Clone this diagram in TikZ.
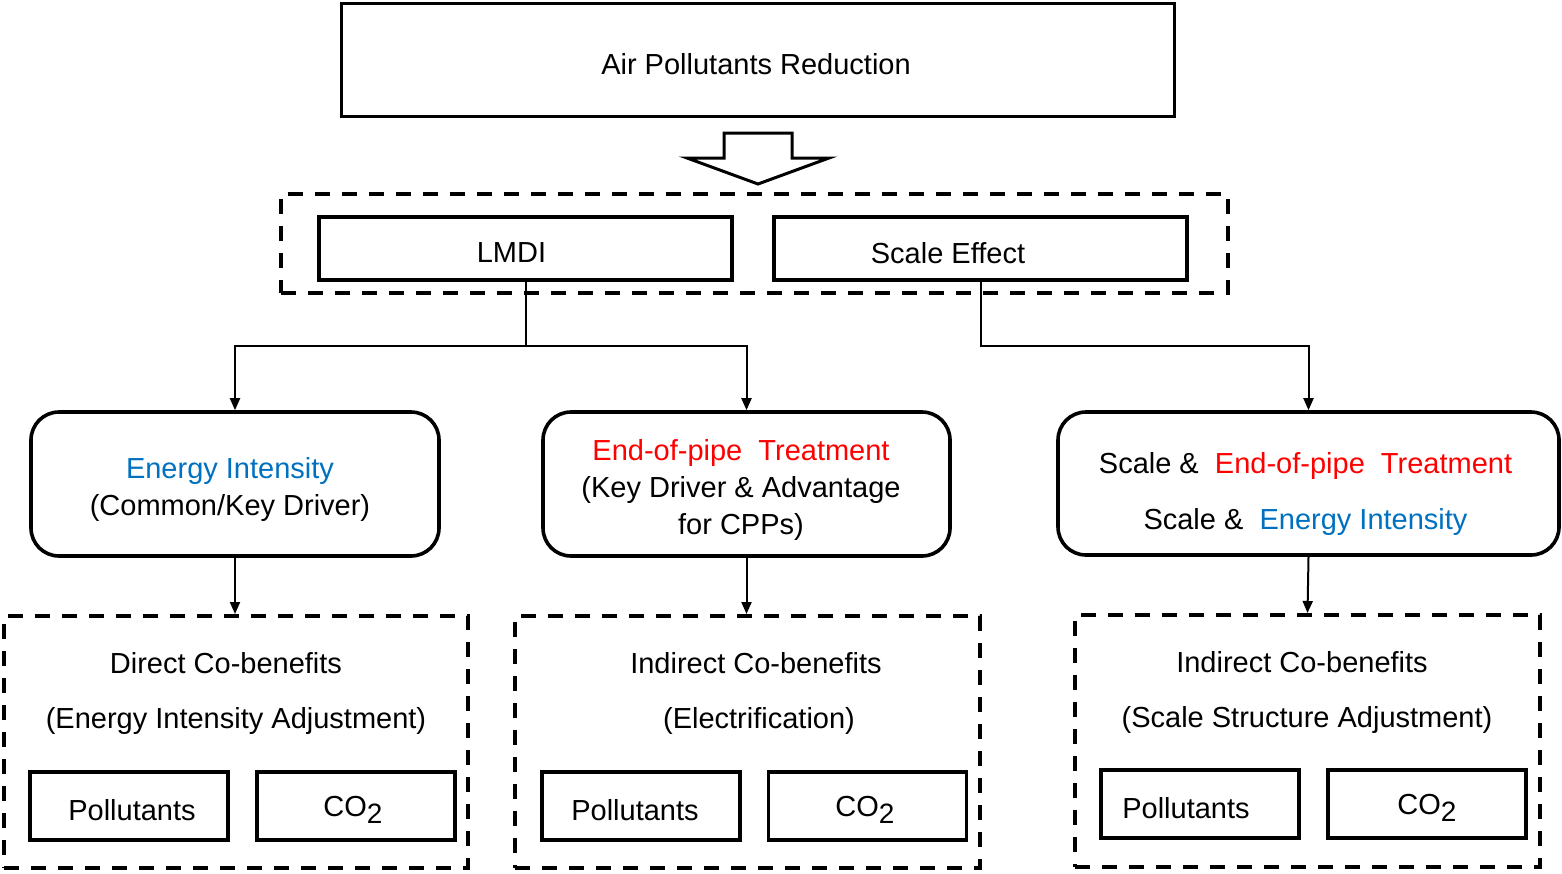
\documentclass[tikz,border=0pt]{standalone}
\usepackage{fontspec}
\setmainfont{Liberation Sans}
\usetikzlibrary{arrows.meta}
\definecolor{eiblue}{HTML}{0070C0}
\definecolor{eptred}{HTML}{FF0000}
\tikzset{t/.style={font=\fontsize{14.5}{18.5}\selectfont, align=center}}
\tikzset{box/.style={draw, line width=1.8pt, inner sep=0pt}}
\tikzset{rbox/.style={box, rounded corners=14pt}}
\tikzset{dbox/.style={draw, line width=2pt, dash pattern=on 7.5pt off 6pt, inner sep=0pt}}
\tikzset{sbox/.style={box, minimum width=99pt, minimum height=34pt}}
\tikzset{arr/.style={-{Triangle[length=6pt,width=5pt]}, line width=1pt}}
\newcommand{\cotwo}{CO\raisebox{-0.5ex}{\fontsize{14}{14}\selectfont 2}}

\begin{document}
\begin{tikzpicture}[x=0.5pt,y=-0.5pt]
  \useasboundingbox (0,0) rectangle (1562,873);
  % top
  \node (air) [box, minimum width=416.5pt, minimum height=56.5pt] at (758,60) {};
  \node (airt) [t] at (756,64) {Air Pollutants Reduction};
  \draw [line width=1.5pt, line join=miter] (724,133) -- (792,133) -- (792,158) -- (829,158)
    -- (758,184) -- (687,158) -- (724,158) -- cycle;
  % methods
  \node (meth) [dbox, minimum width=473.5pt, minimum height=49.5pt] at (754.5,243.5) {};
  \node (lmdi) [box, minimum width=206.5pt, minimum height=31.5pt] at (525.5,248.5) {};
  \node (scale) [box, minimum width=206.5pt, minimum height=31.5pt] at (980.5,248.5) {};
  \node (lmdit) [t] at (511.5,253) {LMDI};
  \node (scalet) [t] at (948,253) {Scale Effect};
  % drivers
  \node (ei) [rbox, minimum width=204pt, minimum height=72pt] at (235,484) {};
  \node (ept) [rbox, minimum width=203.5pt, minimum height=72pt] at (746.5,484) {};
  \node (sc) [rbox, minimum width=250.5pt, minimum height=71.5pt] at (1308.5,483.5) {};
  \node (eit) [t] at (230,489) {\textcolor{eiblue}{Energy Intensity}\\(Common/Key Driver)};
  \node (eptt) [t] at (741,490)
    {\textcolor{eptred}{End-of-pipe\ \ Treatment}\\(Key Driver \& Advantage\\for CPPs)};
  \node (sct) [t] at (1305.5,494)
    {Scale \&\ \ \textcolor{eptred}{End-of-pipe\ \ Treatment}\\[9.5pt]Scale \&\ \ \textcolor{eiblue}{Energy Intensity}};
  \coordinate (split) at (525.5,346);
  \draw [arr] (lmdi.south) -- (split) -| (ei.north);
  \draw [arr] (split) -| (ept.north);
  \draw [arr] (scale.south) |- (1308.5,346) -- (sc.north);
  % co-benefits
  \node (dcb) [dbox, minimum width=232pt, minimum height=126pt] at (236,742) {};
  \node (icb) [dbox, minimum width=232.5pt, minimum height=126pt] at (747.5,742) {};
  \node (scb) [dbox, minimum width=232.5pt, minimum height=126pt] at (1307.5,741) {};
  \node (dcbt) [t] at (226,663) {Direct Co-benefits};
  \node (dcbs) [t] at (236,721) {(Energy Intensity Adjustment)};
  \node (icbt) [t] at (756,663) {Indirect Co-benefits};
  \node (icbs) [t] at (759,721) {(Electrification)};
  \node (scbt) [t] at (1302,662) {Indirect Co-benefits};
  \node (scbs) [t] at (1307,720) {(Scale Structure Adjustment)};
  \node (pol1) [sbox] at (129,806) {};
  \node (co1) [sbox] at (356,806) {};
  \node (pol2) [sbox] at (641,806) {};
  \node (co2) [sbox] at (867.5,806) {};
  \node (pol3) [sbox] at (1200,804) {};
  \node (co3) [sbox] at (1427,804) {};
  \node (pol1t) [t] at (132,810) {Pollutants};
  \node (co1t) [t] at (353,810) {\cotwo};
  \node (pol2t) [t] at (635,810) {Pollutants};
  \node (co2t) [t] at (865,810) {\cotwo};
  \node (pol3t) [t] at (1186,808) {Pollutants};
  \node (co3t) [t] at (1427,808) {\cotwo};
  \draw [arr] (ei.south) -- (ei.south |- dcb.north);
  \draw [arr] (ept.south) -- (ept.south |- icb.north);
  \draw [arr] (sc.south) -- (scb.north);
\end{tikzpicture}
\end{document}
